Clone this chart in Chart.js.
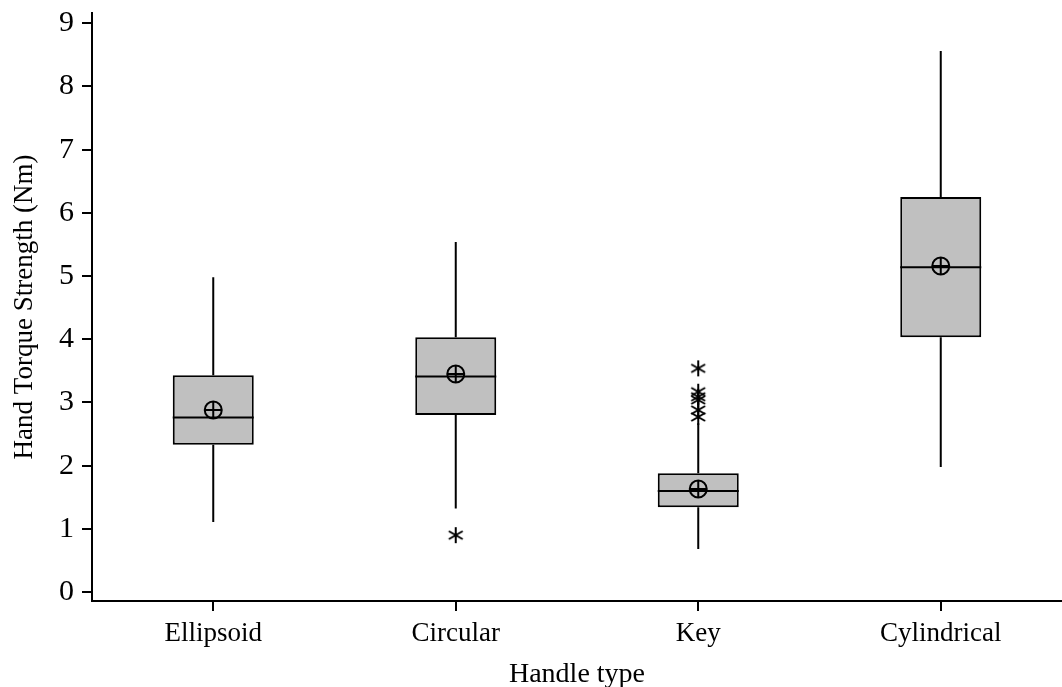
<!DOCTYPE html>
<html>
<head>
<meta charset="utf-8">
<script src="https://cdn.jsdelivr.net/npm/chart.js@4.4.0/dist/chart.umd.min.js"></script>
<style>
  html, body { margin: 0; padding: 0; background: #fff; }
  #wrap { width: 1062px; height: 687px; }
</style>
</head>
<body>
<div id="wrap"><canvas id="c" width="1062" height="687"></canvas></div>
<script>
// Hand torque strength by handle type (box plot summary, Nm)
const handleTypes  = ['Ellipsoid', 'Circular', 'Key', 'Cylindrical'];
const whiskerLow   = [1.11, 1.32, 0.68, 1.98];
const q1           = [2.33, 2.80, 1.34, 4.03];
const median       = [2.76, 3.41, 1.60, 5.14];
const q3           = [3.43, 4.03, 1.88, 6.25];
const whiskerHigh  = [4.98, 5.54, 2.67, 8.56];
const means        = [2.88, 3.45, 1.63, 5.16];
const outlierTypes  = ['Circular', 'Key', 'Key', 'Key', 'Key', 'Key', 'Key'];
const outlierValues = [0.90, 3.54, 3.17, 3.09, 3.04, 2.88, 2.77];
const yTicks = [0, 1, 2, 3, 4, 5, 6, 7, 8, 9];

const FONT = "'Liberation Serif', 'Times New Roman', serif";
const LW = 2;

// six-armed asterisk marker for outliers
function makeAsterisk() {
  const size = 22, c = document.createElement('canvas');
  c.width = size; c.height = size;
  const g = c.getContext('2d');
  g.strokeStyle = '#000';
  g.lineWidth = 2;
  const r = 8, m = size / 2;
  [90, 30, 150].forEach(a => {
    const rad = a * Math.PI / 180;
    g.beginPath();
    g.moveTo(m - r * Math.cos(rad), m - r * Math.sin(rad));
    g.lineTo(m + r * Math.cos(rad), m + r * Math.sin(rad));
    g.stroke();
  });
  return c;
}
const asterisk = makeAsterisk();

// whiskers under the boxes, median lines on top of them
const boxParts = {
  id: 'boxParts',
  beforeDatasetsDraw(chart) {
    const { ctx, scales: { x, y } } = chart;
    ctx.save();
    ctx.strokeStyle = '#000';
    ctx.lineWidth = LW;
    handleTypes.forEach((t, i) => {
      const px = x.getPixelForValue(i);
      ctx.beginPath();
      ctx.moveTo(px, y.getPixelForValue(whiskerHigh[i]));
      ctx.lineTo(px, y.getPixelForValue(q3[i]));
      ctx.moveTo(px, y.getPixelForValue(q1[i]));
      ctx.lineTo(px, y.getPixelForValue(whiskerLow[i]));
      ctx.stroke();
    });
    ctx.restore();
  },
  afterDatasetDraw(chart, args) {
    if (args.index !== 0) return;
    const { ctx, scales: { y } } = chart;
    const bars = chart.getDatasetMeta(0).data;
    ctx.save();
    ctx.strokeStyle = '#000';
    ctx.lineWidth = LW;
    bars.forEach((bar, i) => {
      const py = y.getPixelForValue(median[i]);
      ctx.beginPath();
      ctx.moveTo(bar.x - bar.width / 2, py);
      ctx.lineTo(bar.x + bar.width / 2, py);
      ctx.stroke();
    });
    ctx.restore();
  }
};

new Chart(document.getElementById('c'), {
  type: 'bar',
  data: {
    labels: handleTypes,
    datasets: [
      {
        type: 'bar',
        data: handleTypes.map((t, i) => [q1[i], q3[i]]),
        backgroundColor: '#c0c0c0',
        borderColor: '#000',
        borderWidth: LW,
        borderSkipped: false,
        categoryPercentage: 1,
        barPercentage: 0.334,
        order: 3
      },
      {
        type: 'line',
        data: means,
        showLine: false,
        pointStyle: 'circle',
        pointRadius: 8.5,
        pointBackgroundColor: 'rgba(0,0,0,0)',
        pointBorderColor: '#000',
        pointBorderWidth: LW,
        order: 1
      },
      {
        type: 'line',
        data: means,
        showLine: false,
        pointStyle: 'cross',
        pointRadius: 8.5,
        pointBorderColor: '#000',
        pointBorderWidth: LW,
        order: 1
      },
      {
        type: 'line',
        data: outlierTypes.map((t, i) => ({ x: t, y: outlierValues[i] })),
        showLine: false,
        pointStyle: asterisk,
        order: 1
      }
    ]
  },
  options: {
    responsive: false,
    animation: false,
    events: [],
    layout: { autoPadding: false, padding: { top: 13, right: 0, bottom: 0, left: 0 } },
    plugins: { legend: { display: false }, tooltip: { enabled: false } },
    scales: {
      x: {
        type: 'category',
        offset: true,
        afterFit: s => { s.height = 86; s.paddingLeft = 0; s.paddingRight = 0; },
        grid: { display: true, drawOnChartArea: false, drawTicks: true, tickLength: 10,
                color: '#000', lineWidth: LW, offset: false },
        border: { display: true, color: '#000', width: LW },
        ticks: { color: '#000', font: { family: FONT, size: 27 }, padding: 7, maxRotation: 0 },
        title: { display: true, text: 'Handle type', color: '#000',
                 font: { family: FONT, size: 28 }, padding: { top: 0, bottom: -4 } }
      },
      y: {
        type: 'linear',
        min: -0.142,
        max: 9.163,
        afterFit: s => { s.width = 92; s.paddingTop = 0; s.paddingBottom = 0; },
        afterBuildTicks: s => { s.ticks = yTicks.map(v => ({ value: v })); },
        grid: { display: true, drawOnChartArea: false, drawTicks: true, tickLength: 10,
                color: '#000', lineWidth: LW },
        border: { display: true, color: '#000', width: LW },
        ticks: { color: '#000', font: { family: FONT, size: 30 }, padding: 8 },
        title: { display: true, text: 'Hand Torque Strength (Nm)', color: '#000',
                 font: { family: FONT, size: 27 }, padding: { top: 9, bottom: 0 } }
      }
    }
  },
  plugins: [boxParts]
});
</script>
</body>
</html>
